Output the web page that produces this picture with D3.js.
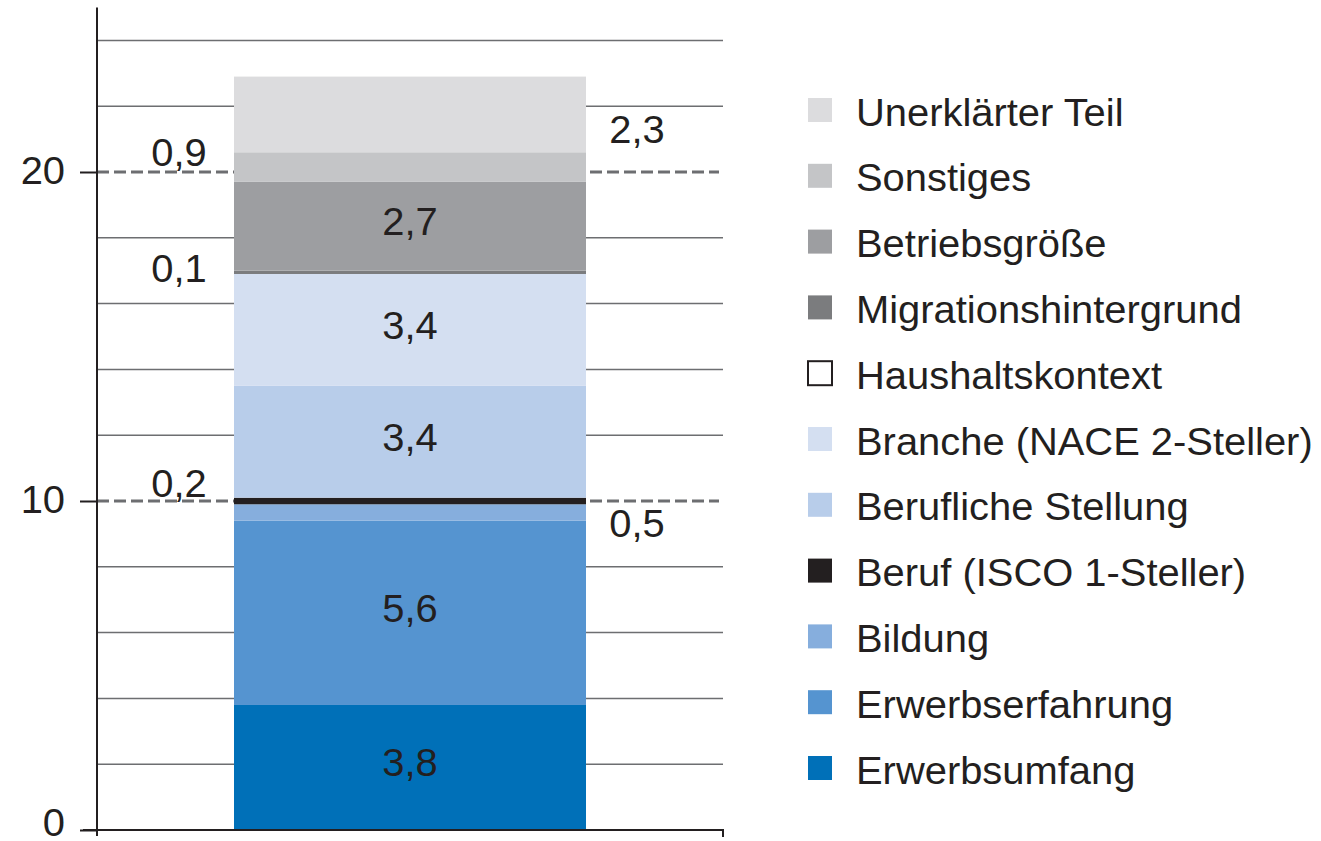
<!DOCTYPE html>
<html>
<head>
<meta charset="utf-8">
<script src="https://cdn.jsdelivr.net/npm/d3@7"></script>
<style>
  body { margin: 0; background: #fff; }
  svg text { font-family: "Liberation Sans", Arial, sans-serif; fill: #231f20; }
</style>
</head>
<body>
<svg width="1321" height="841"></svg>
<script>
// stack order bottom -> top
const categories = [
    'Erwerbsumfang', 'Erwerbserfahrung', 'Bildung', 'Beruf (ISCO 1-Steller)',
    'Berufliche Stellung', 'Branche (NACE 2-Steller)', 'Haushaltskontext',
    'Migrationshintergrund', 'Betriebsgröße', 'Sonstiges', 'Unerklärter Teil'
];
const values = [3.8, 5.6, 0.5, 0.2, 3.4, 3.4, 0, 0.1, 2.7, 0.9, 2.3];
const yTicks = [0, 10, 20];

const colors = ['#0070b8', '#5594d0', '#86aedd', '#231f20', '#b8cdea', '#d4dff1',
    '#ffffff', '#7b7c7e', '#9d9ea1', '#c4c5c7', '#dcdcde'];

const svg = d3.select('svg');
const fmt = v => String(v.toFixed(1)).replace('.', ',');
// the original type is set a bit wide, so stretch text horizontally
const FS = 38, SX = 1.05;
const placeText = (sel, fx, fy) => sel.attr('transform', (d, i) => `translate(${fx(d, i)},${fy(d, i)}) scale(${SX},1)`);

const y = d3.scaleLinear().domain([0, 25]).range([830, 7.5]);
const axisX = 97, rightX = 723;
const x = d3.scaleBand().domain(['bar']).range([234, 586]);

// gridlines every 2 units
const grid = d3.range(2, 25, 2);
svg.append('g').selectAll('line').data(grid.filter(d => !yTicks.includes(d)))
    .enter().append('line')
    .attr('x1', axisX).attr('x2', rightX)
    .attr('y1', d => y(d)).attr('y2', d => y(d))
    .attr('stroke', '#6d6e71').attr('stroke-width', 1.5);

// dashed reference lines at 10 and 20
svg.append('g').selectAll('line').data(yTicks.filter(d => d > 0))
    .enter().append('line')
    .attr('x1', axisX).attr('x2', rightX - 4)
    .attr('y1', d => y(d)).attr('y2', d => y(d))
    .attr('stroke', '#6d6e71').attr('stroke-width', 3)
    .attr('stroke-dasharray', '12,5');

// stacked bar
let acc = 0;
const stacked = values.map((v, i) => {
    const s = { cat: categories[i], v, y0: acc, y1: acc + v, color: colors[i] };
    acc += v;
    return s;
});

svg.append('g').selectAll('rect').data(stacked.filter(d => d.v > 0))
    .enter().append('rect')
    .attr('x', x('bar'))
    .attr('width', x.bandwidth())
    .attr('y', d => y(d.y1))
    .attr('height', d => y(d.y0) - y(d.y1))
    .attr('fill', d => d.color);

// axes
const yAxis = d3.axisLeft(y).tickValues(yTicks).tickSize(17).tickPadding(16)
    .tickFormat(d3.format('d'));
const ya = svg.append('g').attr('transform', `translate(${axisX},0)`).call(yAxis);
ya.select('.domain').attr('d', `M0,${y(25)}V836`).attr('stroke', '#231f20').attr('stroke-width', 2);
ya.selectAll('.tick line').attr('stroke', '#231f20').attr('stroke-width', 2);
ya.selectAll('.tick text')
    .attr('font-size', FS).attr('fill', '#231f20')
    .attr('x', null).attr('dy', null)
    .attr('dominant-baseline', 'central')
    .attr('transform', d => `translate(-32,${d === 0 ? -8 : -2}) scale(${SX},1)`)
    .style('font-family', '"Liberation Sans", Arial, sans-serif');

svg.append('path')
    .attr('d', `M${axisX - 14},830H${rightX}V837`)
    .attr('fill', 'none').attr('stroke', '#231f20').attr('stroke-width', 2);

// labels
const outside = {
    'Sonstiges': { side: 'left', dy: -1 },
    'Migrationshintergrund': { side: 'left', dy: 10 },
    'Beruf (ISCO 1-Steller)': { side: 'left', dy: -4 },
    'Unerklärter Teil': { side: 'right', dy: 29 },
    'Bildung': { side: 'right', dy: 24 }
};

const vl = svg.append('g').selectAll('text').data(stacked.filter(d => d.v > 0))
    .enter().append('text')
    .attr('font-size', FS)
    .attr('text-anchor', 'middle')
    .text(d => fmt(d.v));
placeText(vl,
    d => {
        const o = outside[d.cat];
        if (!o) return x('bar') + x.bandwidth() / 2;
        return o.side === 'left' ? 179 : 637;
    },
    d => {
        const mid = y((d.y0 + d.y1) / 2);
        const o = outside[d.cat];
        return o ? mid + o.dy : mid + 9;
    });

// legend (top -> bottom)
const legendItems = stacked.slice().reverse();
const lg = svg.append('g').selectAll('g').data(legendItems).enter().append('g')
    .attr('transform', (d, i) => `translate(808, ${98 + i * 65.8})`);
lg.append('rect')
    .attr('width', 24).attr('height', 24)
    .attr('fill', d => d.color)
    .attr('stroke', d => d.cat === 'Haushaltskontext' ? '#231f20' : 'none')
    .attr('stroke-width', 2);
const lt = lg.append('text')
    .attr('dy', '0.36em')
    .attr('font-size', FS)
    .text(d => d.cat);
placeText(lt, () => 48, () => 14);
</script>
</body>
</html>
